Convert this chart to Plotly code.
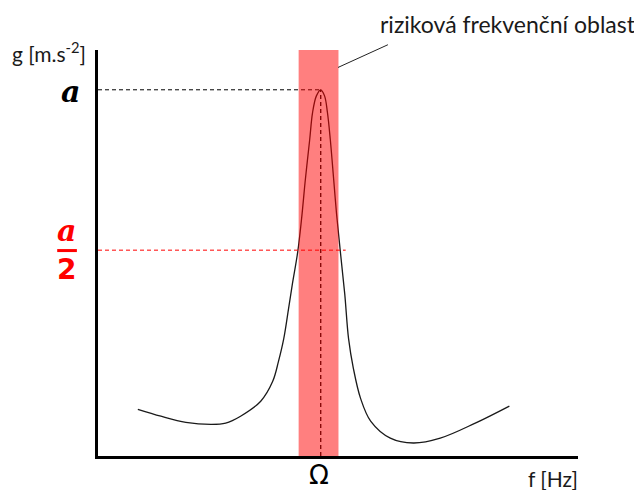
import plotly.graph_objects as go

# response curve (arbitrary units, x 0..10, y 0..10)
freq = [0.83, 1.31, 1.83, 2.35, 2.66, 2.97, 3.39, 3.64, 3.76, 3.87, 3.97, 4.05,
        4.16, 4.24, 4.32, 4.41, 4.47, 4.55, 4.64, 4.72, 4.78, 4.84, 4.91, 4.97,
        5.05, 5.14, 5.22, 5.32, 5.47, 5.68, 6.09, 6.57, 7.13, 7.86, 8.57]
accel = [1.15, 0.98, 0.83, 0.78, 0.81, 0.98, 1.35, 1.84, 2.33, 2.89, 3.63, 4.24,
         5.02, 5.83, 6.81, 7.79, 8.46, 8.87, 9.02, 8.87, 8.46, 7.79, 6.81, 5.96,
         5.02, 4.00, 2.89, 2.16, 1.42, 0.86, 0.44, 0.32, 0.44, 0.81, 1.23]

omega = 4.64
peak_a = 9.02
half_a = 5.07
half_right = 5.16
band = [4.18, 5.01]

fig = go.Figure()

fig.add_trace(go.Scatter(x=freq, y=accel, mode='lines',
                         line=dict(color='#1a1a1a', width=1.3, shape='spline', smoothing=1.0),
                         hoverinfo='skip', showlegend=False))

# dashed guides
fig.add_trace(go.Scatter(x=[0, omega], y=[peak_a, peak_a], mode='lines',
                         line=dict(color='black', width=1, dash='4px,3px'),
                         hoverinfo='skip', showlegend=False))
fig.add_trace(go.Scatter(x=[0, half_right], y=[half_a, half_a], mode='lines',
                         line=dict(color='red', width=1, dash='4px,3px'),
                         hoverinfo='skip', showlegend=False))
fig.add_trace(go.Scatter(x=[omega, omega], y=[0, peak_a], mode='lines',
                         line=dict(color='black', width=1.3, dash='4px,3px'),
                         hoverinfo='skip', showlegend=False))

# risk band on top, half transparent
fig.add_shape(type='rect', xref='x', yref='y', x0=band[0], x1=band[1], y0=0, y1=10,
              fillcolor='rgba(255,0,0,0.5)', line_width=0, layer='above')

# leader line to label
fig.add_shape(type='line', xref='paper', yref='paper', x0=0.50, y0=0.957, x1=0.604, y1=1.013,
              line=dict(color='#222', width=1))

# fraction bar of a/2
fig.add_shape(type='line', xref='paper', yref='paper', x0=-0.085, x1=-0.044, y0=0.506, y1=0.506,
              line=dict(color='red', width=3))

txt = '#1a1a1a'
ann = [
    dict(x=-0.021, y=0.996, text='g [m.s<sup>-2</sup>]', xanchor='right',
         font=dict(family='Lato', size=21, color=txt)),
    dict(x=-0.058, y=0.898, text='<b><i>a</i></b>', xanchor='center',
         font=dict(family='DejaVu Serif', size=30, color='black')),
    dict(x=-0.065, y=0.556, text='<b><i>a</i></b>', xanchor='center',
         font=dict(family='DejaVu Serif', size=30, color='red')),
    dict(x=-0.065, y=0.459, text='<b>2</b>', xanchor='center',
         font=dict(family='DejaVu Sans', size=28, color='red')),
    dict(x=0.460, y=-0.046, text='Ω', xanchor='center',
         font=dict(family='DejaVu Sans', size=26, color='black')),
    dict(x=0.948, y=-0.055, text='f [Hz]', xanchor='center',
         font=dict(family='Lato', size=21, color=txt)),
    dict(x=0.854, y=1.063, text='riziková frekvenční oblast', xanchor='center',
         font=dict(family='Lato', size=23, color=txt)),
]
for a in ann:
    fig.add_annotation(xref='paper', yref='paper', showarrow=False, yanchor='middle', **a)

axis = dict(showline=True, linecolor='black', linewidth=3, showgrid=False,
            zeroline=False, showticklabels=False, ticks='', mirror=False)
fig.update_xaxes(range=[0, 10], **axis)
fig.update_yaxes(range=[0, 10], **axis)

# page has an 8px body margin, so shift the figure up/left by that much
fig.update_layout(width=634, height=482,
                  margin=dict(l=90, r=64, t=42, b=34),
                  plot_bgcolor='white', paper_bgcolor='white')

fig.write_html("out.html")
